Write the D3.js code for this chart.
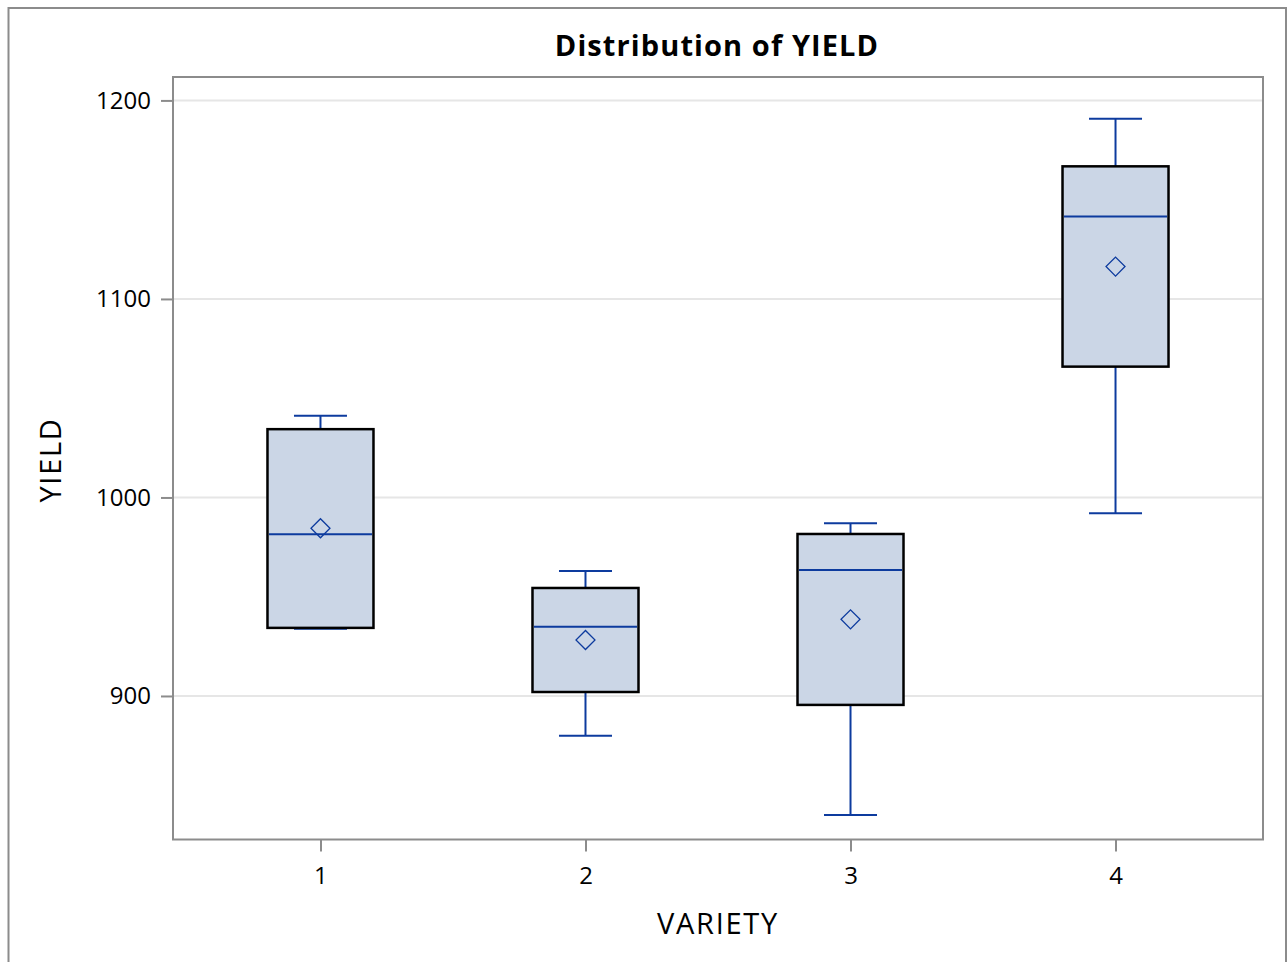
<!DOCTYPE html>
<html lang="en">
<head>
    <meta charset="UTF-8">
    <title>Distribution of YIELD</title>
    <script src="https://cdn.jsdelivr.net/npm/d3@7/dist/d3.min.js"></script>
    <style>
        body { margin: 0; background: #fff; }
        text { font-family: "Open Sans", "Noto Sans", sans-serif; fill: #000; }
    </style>
</head>
<body>
<svg id="chart" width="1288" height="962"></svg>
</body>
<script>
    // box plot summary per variety
    const varieties = ['1', '2', '3', '4'];
    const whiskerLow  = [933.9, 880.0, 840.0, 992.0];
    const q1          = [934.3, 902.0, 895.5, 1065.9];
    const median      = [981.5, 934.9, 963.5, 1141.5];
    const mean        = [984.5, 928.2, 938.6, 1116.3];
    const q3          = [1034.4, 954.4, 981.6, 1166.8];
    const whiskerHigh = [1041.1, 963.0, 987.0, 1190.8];
    const yTicks = [900, 1000, 1100, 1200];

    const blue = '#0d3b9e';
    const frame = '#8c8c8c';

    const svg = d3.select('#chart');
    const plot = {left: 173, right: 1263, top: 77, bottom: 839.5};

    // outer border
    svg.append('rect')
        .attr('x', 8.5).attr('y', 8).attr('width', 1277.5).attr('height', 970)
        .attr('fill', 'none').attr('stroke', frame).attr('stroke-width', 2);

    const x = d3.scalePoint().domain(varieties).range([plot.left, plot.right]).padding(0.5565);
    const step = x.step();
    const boxW = step * 0.4;
    const y = d3.scaleLinear().domain([827.7, 1211.8]).range([plot.bottom, plot.top]);

    // grid lines
    svg.append('g').selectAll('line').data(yTicks).join('line')
        .attr('x1', plot.left).attr('x2', plot.right)
        .attr('y1', d => y(d)).attr('y2', d => y(d))
        .attr('stroke', '#e6e6e6').attr('stroke-width', 2);

    // axes
    const yAxis = svg.append('g').attr('transform', `translate(${plot.left},0)`)
        .call(d3.axisLeft(y).tickValues(yTicks).tickFormat(d3.format('d')).tickSize(12).tickPadding(10));
    const xAxis = svg.append('g').attr('transform', `translate(0,${plot.bottom})`)
        .call(d3.axisBottom(x).tickSize(12).tickPadding(15));
    [yAxis, xAxis].forEach(a => {
        a.select('.domain').remove();
        a.selectAll('line').attr('stroke', frame).attr('stroke-width', 2);
        a.selectAll('text').style('font-size', '24px').attr('fill', '#000')
            .style('font-family', '"Open Sans", "Noto Sans", sans-serif');
    });

    // plot frame
    svg.append('rect')
        .attr('x', plot.left).attr('y', plot.top)
        .attr('width', plot.right - plot.left).attr('height', plot.bottom - plot.top)
        .attr('fill', 'none').attr('stroke', frame).attr('stroke-width', 2);

    const boxes = svg.append('g').selectAll('g').data(varieties).join('g');

    // whiskers
    boxes.append('line')
        .attr('x1', d => x(d)).attr('x2', d => x(d))
        .attr('y1', (d, i) => y(whiskerLow[i])).attr('y2', (d, i) => y(q1[i]))
        .attr('stroke', blue).attr('stroke-width', 2);
    boxes.append('line')
        .attr('x1', d => x(d)).attr('x2', d => x(d))
        .attr('y1', (d, i) => y(q3[i])).attr('y2', (d, i) => y(whiskerHigh[i]))
        .attr('stroke', blue).attr('stroke-width', 2);
    [whiskerLow, whiskerHigh].forEach(arr => {
        boxes.append('line')
            .attr('x1', d => x(d) - boxW / 4).attr('x2', d => x(d) + boxW / 4)
            .attr('y1', (d, i) => y(arr[i])).attr('y2', (d, i) => y(arr[i]))
            .attr('stroke', blue).attr('stroke-width', 2);
    });

    // box
    boxes.append('rect')
        .attr('x', d => x(d) - boxW / 2).attr('width', boxW)
        .attr('y', (d, i) => y(q3[i])).attr('height', (d, i) => y(q1[i]) - y(q3[i]))
        .attr('fill', '#cbd6e6').attr('stroke', '#000').attr('stroke-width', 2.5);

    // median
    boxes.append('line')
        .attr('x1', d => x(d) - boxW / 2 + 1.5).attr('x2', d => x(d) + boxW / 2 - 1.5)
        .attr('y1', (d, i) => y(median[i])).attr('y2', (d, i) => y(median[i]))
        .attr('stroke', blue).attr('stroke-width', 2);

    // mean marker
    boxes.append('path')
        .attr('d', d3.symbol(d3.symbolSquare, 180))
        .attr('transform', (d, i) => `translate(${x(d)},${y(mean[i])}) rotate(45)`)
        .attr('fill', 'none').attr('stroke', blue).attr('stroke-width', 1.3);

    // titles
    svg.append('text').attr('x', 717).attr('y', 56).attr('text-anchor', 'middle')
        .style('font-size', '29px').style('font-weight', 'bold').style('letter-spacing', '1.1px')
        .text('Distribution of YIELD');
    svg.append('text').attr('x', 718).attr('y', 934).attr('text-anchor', 'middle')
        .style('font-size', '29px').style('letter-spacing', '1.7px').text('VARIETY');
    svg.append('text').attr('transform', 'translate(61,460) rotate(-90)').attr('text-anchor', 'middle')
        .style('font-size', '29px').style('letter-spacing', '1.7px').text('YIELD');
</script>
</html>
